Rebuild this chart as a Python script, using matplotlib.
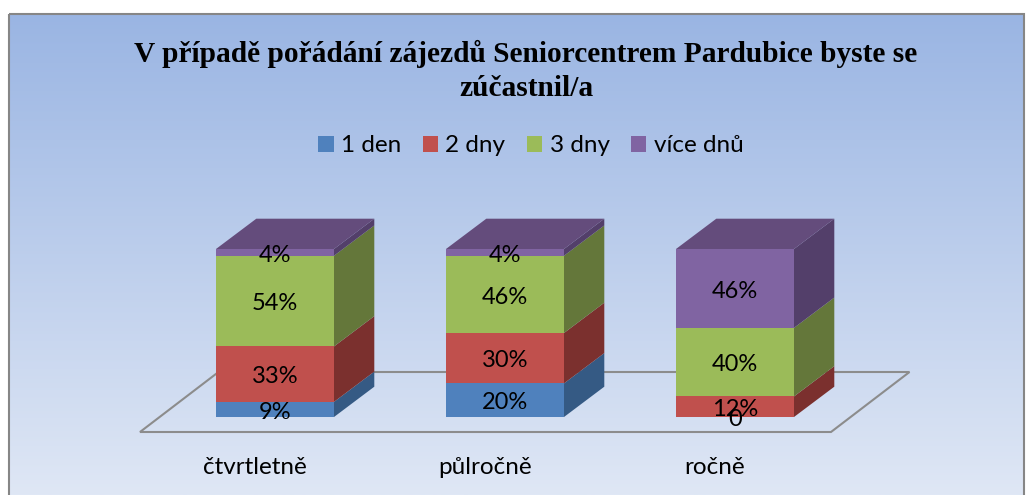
import numpy as np
import matplotlib
matplotlib.use("Agg")
import matplotlib.pyplot as plt
from matplotlib.patches import Patch, Polygon, Rectangle

categories = ["čtvrtletně", "půlročně", "ročně"]
series_names = ["1 den", "2 dny", "3 dny", "více dnů"]
den1 = [9, 20, 0]
dny2 = [33, 30, 12]
dny3 = [54, 46, 40]
vice = [4, 4, 46]
labels_den1 = ["9%", "20%", "0"]
labels_dny2 = ["33%", "30%", "12%"]
labels_dny3 = ["54%", "46%", "40%"]
labels_vice = ["4%", "4%", "46%"]

title = "V případě pořádání zájezdů Seniorcentrem Pardubice byste se\nzúčastnil/a"

front_colors = ["#4f81bd", "#c0504d", "#9bbb59", "#8064a2"]
side_colors = ["#355a84", "#7b302e", "#64773a", "#533f6a"]
top_colors = ["#3f6797", "#9a403e", "#7c9647", "#644c7c"]

# pixel scale of the chart
W, H = 1026, 495
px_x = 230.0     # px per category
px_y = 1.68      # px per percent
x0_px = 275.0    # centre of first bar
y0_px = 417.0    # baseline
bar_w = 118 / px_x
dx = 40.3 / px_x  # depth
dy = 30.3 / px_y

fig = plt.figure(figsize=(W / 100, H / 100), dpi=100, facecolor="white")

# background gradient with frame
bg = fig.add_axes([0, 0, 1, 1], zorder=0)
bg.set_xlim(0, W)
bg.set_ylim(H, 0)
bg.axis("off")
grad = np.linspace(0, 1, 256).reshape(-1, 1)
c_top = np.array(matplotlib.colors.to_rgb("#9ab5e3"))
c_bot = np.array(matplotlib.colors.to_rgb("#dfe7f5"))
img = c_top + (c_bot - c_top) * grad[..., None]
bg.imshow(img, extent=(9, 1024, 495, 14), aspect="auto", zorder=0)
bg.add_patch(Rectangle((8.5, 14), 1015, 490, fill=False, ec="#868686", lw=1.5, zorder=1))
bg.set_xlim(0, W)
bg.set_ylim(H, 0)

ax = fig.add_axes([0, 0, 1, 1], zorder=1)
ax.patch.set_alpha(0)
ax.set_xlim(-x0_px / px_x, (W - x0_px) / px_x)
ax.set_ylim(-(H - y0_px) / px_y, y0_px / px_y)
ax.axis("off")

# floor
fl = -bar_w / 2 - 76 / px_x
fr = fl + 691 / px_x
fb = -15 / px_y
fd = 60 / px_y
fs = 78.5 / px_x
ax.add_patch(Polygon([(fl, fb), (fr, fb), (fr + fs, fb + fd), (fl + fs, fb + fd)],
                     closed=True, fill=False, ec="#8c8c8c", lw=1.5, zorder=1))

values = np.array([den1, dny2, dny3, vice], dtype=float)
texts = [labels_den1, labels_dny2, labels_dny3, labels_vice]

for i in range(len(categories)):
    col = values[:, i]
    heights = col / col.sum() * 100
    bottom = 0.0
    left, right = i - bar_w / 2, i + bar_w / 2
    for s, h in enumerate(heights):
        ax.bar(i, h, bar_w, bottom=bottom, color=front_colors[s], lw=0, zorder=3)
        side = [(right, bottom), (right + dx, bottom + dy),
                (right + dx, bottom + h + dy), (right, bottom + h)]
        ax.add_patch(Polygon(side, closed=True, fc=side_colors[s], ec="none", zorder=3))
        ax.annotate(texts[s][i], (i, bottom + h / 2), xytext=(0, -2), textcoords="offset points",
                    ha="center", va="center", fontsize=17, family="Lato", color="black", zorder=5)
        if s == len(heights) - 1:
            tp = bottom + h
            top = [(left, tp), (right, tp), (right + dx, tp + dy), (left + dx, tp + dy)]
            ax.add_patch(Polygon(top, closed=True, fc=top_colors[s], ec="none", zorder=3))
        bottom += h
    ax.annotate(categories[i], (i, 0), xytext=(-20 * 0.72, -50 * 0.72),
                textcoords="offset points", ha="center", va="center",
                fontsize=17.5, family="Lato", color="black", zorder=5)

fig.text(526 / W, 1 - 71 / H, title, ha="center", va="center", fontsize=21.2,
         fontweight="bold", family="Liberation Serif", linespacing=1.3, color="black")

handles = [Patch(fc=c, ec="none", label=n) for c, n in zip(front_colors, series_names)]
fig.legend(handles=handles, loc="center", bbox_to_anchor=(531 / W, 1 - 146 / H), ncol=4,
           frameon=False, handlelength=0.62, handleheight=0.62, handletextpad=0.3,
           columnspacing=0.9, prop={"family": "Lato", "size": 17.5})

fig.savefig("out.png", dpi=100, facecolor="white")
